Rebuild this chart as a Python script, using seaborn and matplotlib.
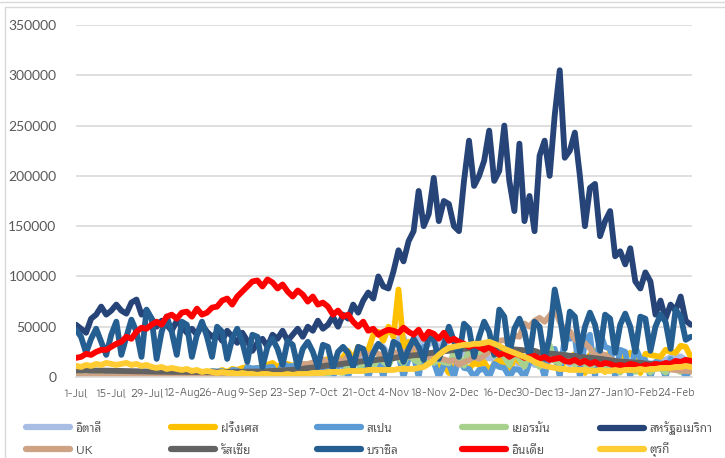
import numpy as np
import pandas as pd
import seaborn as sns
import matplotlib.pyplot as plt
from matplotlib.lines import Line2D

# ยอดผู้ติดเชื้อรายวัน (พันราย) อ่านจากกราฟทุก 2 วัน เริ่ม 1-Jul-2020
dates = pd.date_range("2020-07-01", periods=123, freq="2D")

italy = [0.2, 0.2, 0.2, 0.2, 0.2, 0.2, 0.2, 0.2, 0.2, 0.3,
         0.3, 0.3, 0.3, 0.3, 0.4, 0.4, 0.5, 0.6, 0.5, 0.8,
         0.6, 1.0, 1.0, 1.2, 1.4, 0.9, 1.5, 1.6, 1.0, 1.6,
         1.4, 1.7, 1.5, 1.4, 1.8, 1.4, 1.7, 1.9, 1.5, 1.8,
         1.6, 1.9, 1.9, 2.5, 2.6, 4.5, 5.4, 5.7, 8.8, 10.0,
         10.9, 11.7, 15.2, 19.1, 16.0, 21.3, 16.1, 24.9, 26.8, 30.0,
         31.7, 29.9, 22.3, 30.5, 37.8, 39.8, 25.3, 35.1, 40.9, 33.9,
         32.2, 36.2, 28.3, 34.8, 26.3, 22.9, 20.6, 24.0, 18.7, 16.9,
         12.8, 17.9, 18.8, 17.6, 17.6, 19.9, 14.5, 18.0, 11.2, 10.4,
         22.2, 11.8, 14.2, 20.4, 18.6, 16.1, 18.6, 16.3, 12.5, 15.8,
         13.5, 11.6, 15.2, 10.6, 12.0, 10.3, 13.2, 11.6, 14.9, 9.7,
         13.4, 15.1, 9.6, 12.9, 13.8, 13.3, 16.4, 17.1, 19.9, 19.9,
         20.5, 17.1, 13.1]

france = [1, 1, 0, 1, 1, 1, 0, 1, 1, 1,
          1, 1, 2, 1, 2, 1, 2, 2, 2, 3,
          2, 3, 3, 4, 3, 5, 4, 6, 5, 7,
          5, 8, 7, 9, 10, 8, 9, 10, 12, 14,
          10, 13, 13, 11, 14, 12, 12, 10, 14, 16,
          18, 17, 12, 20, 26, 17, 30, 25, 27, 42,
          45, 36, 50, 40, 87, 30, 35, 25, 20, 12,
          14, 22, 10, 12, 4, 11, 13, 12, 8, 14,
          12, 15, 6, 13, 17, 11, 3, 21, 15, 12,
          20, 25, 11, 19, 21, 20, 4, 18, 19, 23,
          21, 4, 22, 26, 23, 5, 26, 25, 23, 19,
          24, 20, 4, 23, 22, 21, 20, 27, 25, 24,
          31, 30, 20]

spain = [0.5, 0.6, 0, 0.9, 0.6, 0, 1.2,
         0.8, 1.0, 0, 1.4, 1.2, 0, 2.0,
         1.5, 1.7, 0, 2.5, 1.8, 0, 3.5,
         3.0, 3.5, 0, 4.5, 3.8, 0, 6.0,
         5.5, 6.0, 0, 7.0, 6.5, 0, 10.0,
         8.5, 9.0, 0, 9.5, 10.0, 0, 14.0,
         10.5, 11.0, 0, 10.0, 9.5, 0, 15.0,
         9.5, 10.0, 0, 11.0, 12.0, 0, 18.0,
         13.0, 15.0, 0, 14.0, 16.0, 0, 22.0,
         20.0, 22.0, 0, 18.0, 21.0, 0, 30.0,
         17.0, 15.0, 0, 12.0, 13.0, 0, 20.0,
         9.0, 8.0, 0, 7.0, 8.0, 0, 13.0,
         10.0, 9.0, 0, 8.0, 7.0, 0, 14.0,
         17.0, 18.0, 0, 25.0, 28.0, 0, 40.0,
         38.0, 40.0, 0, 35.0, 42.0, 0, 44.0,
         30.0, 28.0, 0, 27.0, 25.0, 0, 30.0,
         18.0, 17.0, 0, 15.0, 14.0, 0, 18.0,
         10.0, 9.0, 0, 8.0]

germany = [0.4, 0.4, 0.2, 0.4, 0.5, 0.3, 0.3, 0.5, 0.5, 0.3,
           0.5, 0.8, 0.3, 0.6, 0.9, 0.6, 0.5, 0.9, 1.0, 0.4,
           1.2, 1.5, 0.6, 1.4, 1.6, 0.7, 1.5, 1.6, 0.8, 1.4,
           1.3, 1.5, 0.8, 1.4, 1.5, 1.1, 2.0, 1.7, 1.2, 2.3,
           1.8, 1.3, 2.2, 2.5, 1.6, 2.5, 2.6, 2.1, 4.0, 3.4,
           2.6, 6.6, 4.7, 4.0, 11.3, 6.9, 6.0, 14.7, 11.2, 9.7,
           18.7, 15.4, 11.2, 21.5, 19.0, 13.1, 23.5, 17.2, 14.5, 20.1,
           16.5, 14.0, 17.5, 14.6, 13.6, 23.4, 20.8, 11.2, 27.7, 22.3,
           20.2, 28.4, 32.0, 21.0, 25.0, 20.1, 11.7, 24.1, 17.8, 10.3,
           25.0, 15.0, 10.0, 24.7, 31.8, 16.0, 13.7, 22.5, 17.9, 12.0,
           16.3, 13.2, 6.0, 17.9, 14.0, 7.0, 14.2, 10.2, 4.3, 12.4,
           10.2, 5.0, 11.1, 8.3, 4.4, 9.2, 8.4, 4.4, 9.3, 7.7,
           5.0, 9.9, 7.8]

usa = [52, 48, 44, 58, 62, 70, 62, 66, 72, 66,
       63, 74, 77, 62, 66, 58, 50, 56, 52, 46,
       56, 50, 44, 48, 42, 52, 45, 40, 44, 36,
       46, 40, 34, 44, 36, 26, 34, 38, 30, 42,
       38, 46, 36, 42, 48, 40, 50, 46, 56, 48,
       52, 60, 50, 62, 58, 72, 64, 76, 84, 78,
       100, 90, 88, 105, 126, 115, 135, 145, 185, 150,
       162, 198, 155, 175, 172, 150, 145, 195, 235, 190,
       200, 215, 245, 195, 205, 250, 195, 165, 232, 155,
       180, 145, 220, 235, 200, 260, 305, 218, 225, 243,
       200, 150, 188, 192, 140, 155, 165, 120, 125, 112,
       128, 95, 88, 104, 95, 62, 76, 58, 72, 66,
       80, 56, 52]

uk = [0.7, 0.6, 0.6, 0.7, 0.6, 0.6, 0.5, 0.7, 0.6, 0.7,
      0.8, 0.7, 0.9, 0.8, 0.7, 0.9, 0.8, 1.0, 1.0, 0.9,
      1.1, 1.2, 1.0, 1.2, 1.4, 1.0, 1.1, 1.3, 1.4, 1.7,
      1.8, 2.9, 3.0, 2.9, 3.5, 3.9, 4.0, 3.4, 4.9, 6.2,
      6.0, 6.9, 4.0, 7.1, 7.1, 13.0, 12.9, 14.5, 15.2, 17.5,
      14.5, 17.2, 18.0, 15.2, 21.2, 16.9, 20.9, 26.7, 21.0, 24.7,
      23.1, 20.0, 22.0, 24.7, 24.1, 25.0, 20.4, 33.5, 24.9, 20.2,
      19.9, 20.3, 18.0, 17.6, 15.9, 16.6, 12.3, 14.9, 16.6, 20.3,
      18.0, 21.1, 25.2, 27.0, 35.9, 36.8, 32.7, 41.4, 40.0, 53.1,
      50.0, 55.9, 58.8, 54.9, 60.9, 68.0, 54.9, 46.2, 45.5, 37.5,
      33.4, 33.6, 28.7, 20.1, 23.2, 21.9, 18.6, 15.1, 14.1, 12.7,
      12.0, 10.4, 9.7, 10.6, 9.9, 8.7, 8.5, 9.9, 7.4, 6.9,
      6.4, 6.0, 5.5]

russia = [6.6, 6.6, 6.6, 6.5, 6.4, 6.4, 6.3, 6.2, 6.1, 6.0,
          5.9, 5.8, 5.7, 5.6, 5.5, 5.4, 5.3, 5.2, 5.2, 5.1,
          5.1, 5.1, 5.0, 5.0, 4.9, 4.9, 4.9, 4.8, 4.8, 4.9,
          4.9, 5.0, 5.1, 5.2, 5.3, 5.4, 5.5, 5.6, 5.8, 6.0,
          6.2, 6.5, 6.9, 7.2, 7.7, 8.2, 8.9, 9.4, 10.0, 10.9,
          11.6, 12.1, 12.5, 13.2, 13.9, 14.2, 15.1, 15.7, 16.2, 16.5,
          17.3, 17.7, 18.1, 18.6, 19.8, 20.5, 20.9, 21.6, 21.9, 22.8,
          23.6, 24.3, 25.2, 25.5, 26.3, 26.7, 27.1, 28.1, 28.6, 28.2,
          28.8, 29.0, 29.3, 28.6, 28.2, 28.1, 27.7, 27.4, 27.0, 26.5,
          26.3, 26.0, 24.2, 23.5, 23.3, 22.9, 22.4, 21.8, 21.1, 21.0,
          20.3, 19.6, 19.2, 18.7, 18.2, 17.3, 16.7, 16.0, 15.4, 15.1,
          14.7, 14.4, 14.2, 13.4, 13.0, 12.8, 12.5, 12.1, 11.7, 11.5,
          11.4, 11.0, 10.8]

brazil = [47, 40, 24, 38, 48, 35, 22,
          42, 55, 22, 40, 57, 45, 20,
          67, 58, 18, 45, 60, 45, 22,
          55, 52, 20, 42, 55, 40, 20,
          50, 45, 18, 38, 48, 35, 15,
          42, 40, 10, 30, 38, 28, 12,
          36, 32, 10, 28, 35, 25, 10,
          32, 30, 9, 25, 30, 24, 10,
          30, 28, 10, 24, 33, 28, 12,
          35, 32, 15, 28, 38, 30, 17,
          40, 37, 18, 32, 50, 36, 20,
          53, 48, 20, 40, 55, 45, 22,
          67, 60, 22, 48, 58, 45, 20,
          55, 50, 18, 40, 87, 62, 28,
          65, 60, 25, 50, 64, 52, 26,
          62, 58, 24, 52, 63, 50, 25,
          60, 58, 26, 50, 62, 55, 28,
          67, 60, 37, 40]

india = [19, 20, 23, 22, 25, 27, 27, 30, 33, 35,
         40, 38, 45, 49, 48, 52, 55, 52, 60, 62,
         58, 64, 65, 60, 68, 62, 64, 69, 70, 76,
         78, 72, 80, 85, 90, 95, 96, 90, 97, 94,
         88, 92, 85, 80, 86, 82, 75, 80, 72, 74,
         70, 62, 66, 60, 62, 55, 50, 55, 46, 48,
         42, 45, 47, 46, 44, 49, 45, 42, 47, 38,
         45, 43, 38, 44, 36, 38, 35, 33, 30, 32,
         30, 27, 30, 26, 22, 24, 20, 23, 22, 19,
         20, 21, 18, 20, 17, 18, 19, 16, 15, 17,
         14, 16, 13, 15, 12, 14, 13, 11, 12, 11,
         13, 12, 10, 12, 11, 13, 12, 14, 13, 16,
         15, 17, 16]

turkey = [11, 10, 12, 11, 13, 12, 14, 13, 12, 13,
          14, 12, 13, 11, 12, 10, 9, 10, 8, 9,
          8, 7, 8, 6, 7, 5, 6, 5, 4, 5,
          4, 4, 3, 4, 3, 3, 2, 3, 3, 2,
          2, 2, 3, 2, 3, 3, 3, 4, 4, 4,
          5, 5, 5, 5, 6, 6, 6, 6, 7, 7,
          7, 7, 7, 7, 8, 8, 8, 8, 9, 10,
          13, 17, 22, 26, 29, 30, 31, 32, 32, 33,
          33, 34, 35, 33, 31, 28, 26, 24, 22, 20,
          18, 15, 13, 11, 10, 9, 8, 8, 7, 7,
          7, 7, 6, 6, 7, 6, 6, 7, 6, 7,
          7, 7, 8, 7, 8, 8, 9, 9, 9, 10,
          10, 11, 10]

countries = ["อิตาลี", "ฝรั่งเศส", "สเปน", "เยอรมัน", "สหรัฐอเมริกา",
             "UK", "รัสเซีย", "บราซิล", "อินเดีย", "ตุรกี"]
series = [italy, france, spain, germany, usa, uk, russia, brazil, india, turkey]
colors = ["#a7bde3", "#ffc000", "#5b9bd5", "#a9d18e", "#264478",
          "#cfa283", "#636363", "#255e91", "#ff0000", "#ffcd33"]

df = pd.concat([pd.DataFrame({"date": dates, "cases": np.array(v) * 1000, "country": c})
                for c, v in zip(countries, series)], ignore_index=True)

sns.set_style("white")
plt.rcParams["font.family"] = ["Lato", "Noto Sans Thai Looped"]
narrow = ["Liberation Sans Narrow", "Athiti", "Lato"]

fig = plt.figure(figsize=(7.25, 4.58), dpi=100)
ax = fig.add_axes([76 / 725, 1 - 377 / 458, (692 - 76) / 725, (377 - 25) / 458])

sns.lineplot(data=df, x="date", y="cases", hue="country", hue_order=countries,
             palette=colors, linewidth=4.2, estimator=None, sort=False, legend=False,
             solid_joinstyle="round", solid_capstyle="round", ax=ax)

ticks = pd.date_range("2020-07-01", "2021-02-24", freq="14D")
ax.set_xticks(ticks)
ax.set_xticklabels([f"{d.day}-{d:%b}" for d in ticks], family=narrow)
ax.set_xlim(dates[0], dates[0] + pd.Timedelta(days=244.5))
ax.set_ylim(0, 350000)
ax.set_yticks(range(0, 350001, 50000))
ax.set_xlabel("")
ax.set_ylabel("")

ax.yaxis.grid(True, color="#d9d9d9", linewidth=1.2)
ax.set_axisbelow(True)
for s in ["top", "right", "left"]:
    ax.spines[s].set_visible(False)
ax.spines["bottom"].set_color("#d9d9d9")
ax.spines["bottom"].set_linewidth(1.2)
ax.tick_params(axis="x", length=4, color="#d9d9d9", labelsize=9, labelcolor="#595959", pad=4)
ax.tick_params(axis="y", length=0, labelsize=10, labelcolor="#595959", pad=14)

# legend: 5 columns x 2 rows under the plot, one entry each so rows stay level
handles = [Line2D([], [], color=c, linewidth=4.5, solid_capstyle="round") for c in colors]
col_x = [26, 171, 317, 462, 600]
row_y = [428, 450]
for i in range(10):
    row, col = divmod(i, 5)
    fig.legend([handles[i]], [countries[i]], loc="center left",
               bbox_to_anchor=(col_x[col] / 725, 1 - row_y[row] / 458),
               frameon=False, fontsize=8.5, handlelength=3.7, handletextpad=0.5,
               borderpad=0, borderaxespad=0, labelcolor="#595959")

# chart area border lines
fig.add_artist(Line2D([0, 1], [1 - 2 / 458] * 2, color="#d9d9d9", linewidth=1))
fig.add_artist(Line2D([5 / 725, 1], [1 - 7 / 458] * 2, color="#d9d9d9", linewidth=1))
fig.add_artist(Line2D([5 / 725] * 2, [0, 1 - 7 / 458], color="#d9d9d9", linewidth=1))

fig.savefig("out.png", dpi=100)
